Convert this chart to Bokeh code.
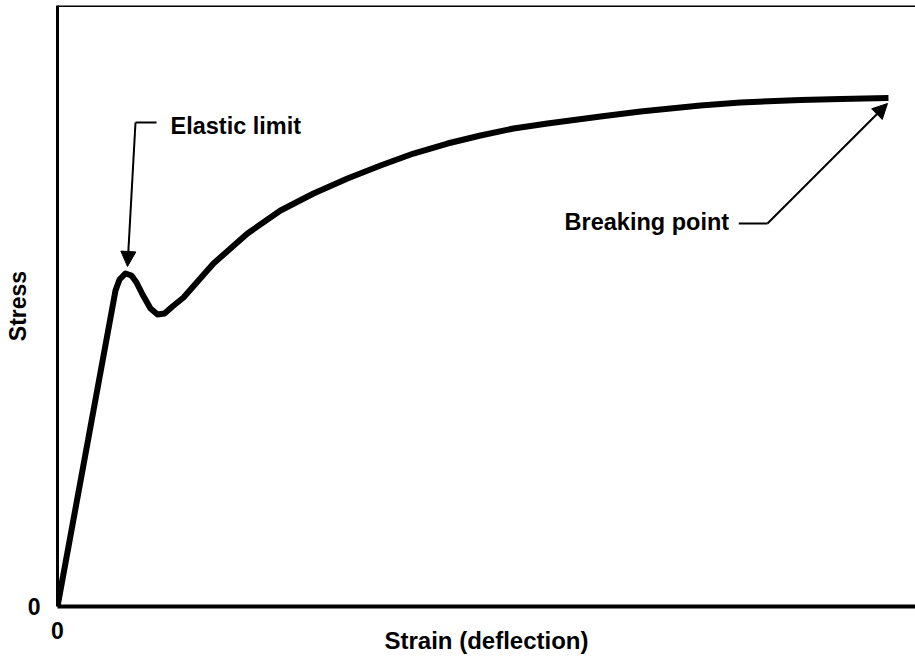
from bokeh.plotting import figure
from bokeh.models import Range1d, FixedTicker, Arrow, NormalHead, Label, Span
from bokeh.embed import file_html
from bokeh.resources import INLINE

# Stress-strain curve (arbitrary units, 0-100 scale)
strain = [0.0, 6.76, 7.23, 7.93, 8.62, 9.21, 9.91, 10.84, 11.66, 12.47, 13.40,
          14.69, 16.43, 18.18, 22.14, 25.99, 29.84, 33.80, 37.65, 41.49, 45.45,
          49.30, 53.15, 57.11, 63.29, 67.95, 74.94, 79.60, 86.60, 91.26, 96.85]
stress = [0.0, 52.84, 54.68, 55.69, 55.35, 54.18, 52.17, 49.83, 48.83, 49.00, 50.17,
          51.67, 54.52, 57.36, 62.37, 66.22, 69.06, 71.57, 73.75, 75.75, 77.42,
          78.76, 79.93, 80.77, 81.94, 82.78, 83.78, 84.28, 84.70, 84.87, 85.03]

x_ticks = [0]
y_ticks = [0]

# annotations: label text, label anchor, leader segment, arrow tip
elastic_text = "Elastic limit"
elastic_label_xy = (13.17, 80.35)
elastic_leader = ([11.54, 9.09], [80.94, 80.94])
elastic_tip = (8.16, 56.86)

break_text = "Breaking point"
break_label_xy = (59.1, 64.3)
break_leader = ([79.4, 82.75], [64.05, 64.05])
break_tip = (96.74, 84.11)

FONT = "Liberation Sans"

p = figure(width=915, height=659, output_backend="svg", toolbar_location=None,
           x_range=Range1d(0, 100), y_range=Range1d(0, 100.5),
           min_border_left=57, min_border_top=5, min_border_right=0, min_border_bottom=53)
p.background_fill_color = "white"
p.border_fill_color = "white"
p.grid.visible = False
p.outline_line_color = None

# top edge of the frame
p.add_layout(Span(location=p.y_range.end, dimension="width", line_color="black", line_width=3))

p.line(strain, stress, line_width=6, line_color="black", line_join="round", line_cap="butt")

for lx, ly in (elastic_leader, break_leader):
    p.line(lx, ly, line_width=2, line_color="black")

for (lx, ly), (tx, ty) in ((elastic_leader, elastic_tip), (break_leader, break_tip)):
    p.add_layout(Arrow(end=NormalHead(size=15, fill_color="black", line_color="black"),
                       x_start=lx[1], y_start=ly[1], x_end=tx, y_end=ty,
                       line_width=2, line_color="black"))

for txt, (x, y) in ((elastic_text, elastic_label_xy), (break_text, break_label_xy)):
    p.add_layout(Label(x=x, y=y, text=txt, text_font=FONT, text_font_style="bold",
                       text_font_size="23.5px", text_color="black",
                       text_baseline="alphabetic", text_align="left"))

# axes
for ax in (p.xaxis[0], p.yaxis[0]):
    ax.major_tick_line_color = None
    ax.minor_tick_line_color = None
    ax.major_tick_out = 0
    ax.major_tick_in = 0
    ax.minor_tick_out = 0
    ax.minor_tick_in = 0
    ax.axis_line_color = "black"
    ax.major_label_text_font = FONT
    ax.major_label_text_font_style = "bold"
    ax.major_label_text_font_size = "23px"
    ax.major_label_text_color = "black"
    ax.axis_label_text_font = FONT
    ax.axis_label_text_font_style = "bold"
    ax.axis_label_text_color = "black"

p.xaxis.ticker = FixedTicker(ticks=x_ticks)
p.yaxis.ticker = FixedTicker(ticks=y_ticks)
p.xaxis.axis_line_width = 4
p.yaxis.axis_line_width = 3

p.xaxis.axis_label = "Strain (deflection)"
p.xaxis.axis_label_text_font_size = "24px"
p.xaxis.major_label_standoff = 15
p.xaxis.axis_label_standoff = -15

p.yaxis.axis_label = "Stress"
p.yaxis.axis_label_text_font_size = "23px"
p.yaxis.major_label_standoff = 17
p.yaxis.axis_label_standoff = -6
p.yaxis.major_label_orientation = "horizontal"

open("out.html", "w").write(file_html(p, INLINE))
